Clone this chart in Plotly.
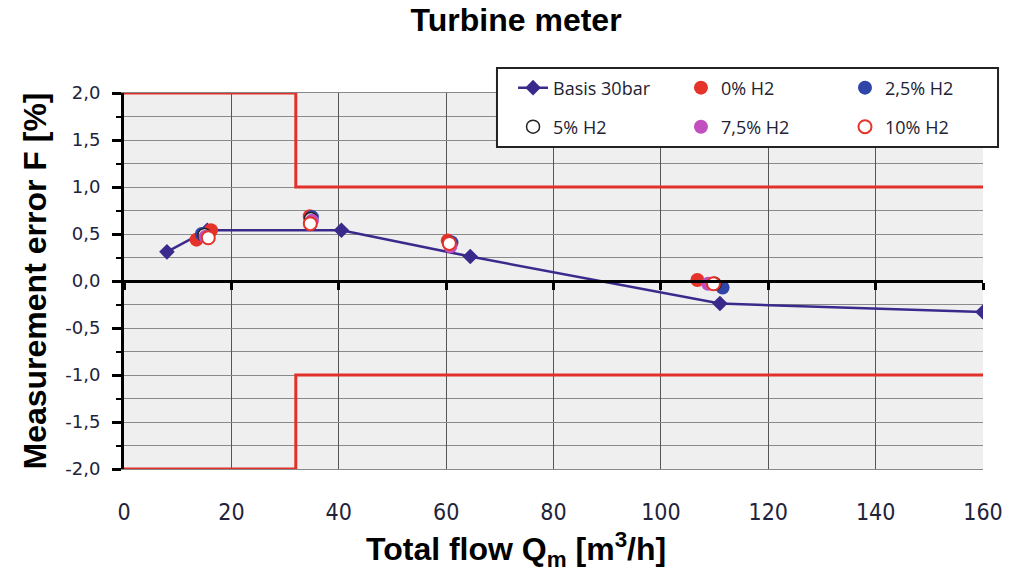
import plotly.graph_objects as go

# Data
basis_x = [8, 15.5, 40.5, 64.5, 111, 160]
basis_y = [0.31, 0.54, 0.54, 0.26, -0.24, -0.33]

h0_x = [13.5, 16.2, 34.6, 60.3, 106.8]
h0_y = [0.44, 0.54, 0.69, 0.43, 0.01]
h25_x = [14.5, 35.0, 61.0, 111.5]
h25_y = [0.50, 0.68, 0.41, -0.07]
h5_x = [15.0, 34.8, 60.6, 110.0]
h5_y = [0.49, 0.66, 0.40, -0.03]
h75_x = [15.2, 35.0, 60.8, 108.8]
h75_y = [0.47, 0.64, 0.37, -0.03]
h10_x = [15.7, 34.7, 60.6, 109.8]
h10_y = [0.46, 0.61, 0.40, -0.03]

upper_x = [0, 32, 32, 160]
upper_y = [2.0, 2.0, 1.0, 1.0]
lower_x = [0, 32, 32, 160]
lower_y = [-2.0, -2.0, -1.0, -1.0]

x_ticks = [0, 20, 40, 60, 80, 100, 120, 140, 160]
y_ticks = [2.0, 1.5, 1.0, 0.5, 0.0, -0.5, -1.0, -1.5, -2.0]
y_minor = [1.75, 1.25, 0.75, 0.25, -0.25, -0.75, -1.25, -1.75]

RED = "#e2312a"
fig = go.Figure()

fig.add_trace(go.Scatter(x=upper_x, y=upper_y, mode="lines",
                         line=dict(color=RED, width=3), showlegend=False, hoverinfo="skip"))
fig.add_trace(go.Scatter(x=lower_x, y=lower_y, mode="lines",
                         line=dict(color=RED, width=3), showlegend=False, hoverinfo="skip"))

fig.add_trace(go.Scatter(x=basis_x, y=basis_y, mode="lines+markers", name="Basis 30bar",
                         legend="legend",
                         line=dict(color="#3a2a8c", width=2.5),
                         marker=dict(symbol="diamond", size=12, color="#3a2a8c")))
fig.add_trace(go.Scatter(x=h0_x, y=h0_y, mode="markers", name="0% H2", legend="legend2",
                         marker=dict(symbol="circle", size=14, color="#e5332a")))
fig.add_trace(go.Scatter(x=h25_x, y=h25_y, mode="markers", name="2,5% H2", legend="legend3",
                         marker=dict(symbol="circle", size=14, color="#2f45a8")))
fig.add_trace(go.Scatter(x=h5_x, y=h5_y, mode="markers", name="5% H2", legend="legend4",
                         marker=dict(symbol="circle", size=13, color="white",
                                     line=dict(color="#222222", width=1.5))))
fig.add_trace(go.Scatter(x=h75_x, y=h75_y, mode="markers", name="7,5% H2", legend="legend5",
                         marker=dict(symbol="circle", size=14, color="#c24fc0")))
fig.add_trace(go.Scatter(x=h10_x, y=h10_y, mode="markers", name="10% H2", legend="legend6",
                         marker=dict(symbol="circle", size=13, color="white",
                                     line=dict(color="#e5332a", width=2))))

# invisible trace to carry the zero-line axis with ticks
fig.add_trace(go.Scatter(x=[0, 160], y=[0, 0], xaxis="x2", mode="lines",
                         line=dict(color="rgba(0,0,0,0)"), showlegend=False, hoverinfo="skip"))

xtick_font = dict(family="Liberation Sans Narrow, DejaVu Sans Condensed, Open Sans", size=23, color="#22223a")
ytick_font = dict(family="DejaVu Sans, Open Sans", size=18, color="#22223a")
title_font = dict(family="Liberation Sans, Arial", size=32, color="black")
legend_font = dict(family="Open Sans, Liberation Sans", size=18, color="#222233")

# legend box (white, black border)
fig.add_shape(type="rect", xref="paper", yref="paper",
              x0=0.4342, x1=1.0175, y0=0.8564, y1=1.0665,
              fillcolor="white", line=dict(color="#222222", width=2), layer="above")

legend_cols = [0.502, 0.6663, 0.8268]
legend_rows = [0.8462, 0.778]
legends = {}
for i in range(6):
    key = "legend" if i == 0 else f"legend{i + 1}"
    legends[key] = dict(xref="container", yref="container",
                        x=legend_cols[i % 3], y=legend_rows[i // 3],
                        xanchor="left", yanchor="middle",
                        bgcolor="rgba(0,0,0,0)", borderwidth=0, font=legend_font)

# x-axis title (offset left of plot centre, as in the original)
fig.add_annotation(text="<b>Total flow Q<sub>m</sub> [m<sup>3</sup>/h]</b>",
                   xref="paper", yref="paper", x=0.456, y=-0.2154,
                   xanchor="center", yanchor="middle", showarrow=False, font=title_font)

fig.update_layout(
    width=1022, height=572,
    margin=dict(l=124, r=39, t=93, b=103, autoexpand=False),
    paper_bgcolor="white",
    plot_bgcolor="#efefef",
    separators=", ",
    title=dict(text="<b>Turbine meter</b>", x=0.505, xanchor="center", y=0.965, yanchor="middle",
               font=title_font),
    xaxis=dict(range=[0, 160], tickvals=x_ticks, ticktext=[str(v) for v in x_ticks],
               showgrid=True, gridcolor="#555555", gridwidth=1,
               zeroline=False, showline=True, linecolor="#888888", linewidth=1, mirror=True,
               ticks="", tickfont=xtick_font, ticklabelstandoff=22),
    xaxis2=dict(range=[0, 160], overlaying="x", anchor="free", position=0.5,
                tickvals=x_ticks, showticklabels=False, ticks="outside", ticklen=7,
                tickwidth=3, tickcolor="black", showline=True, linecolor="black", linewidth=3,
                showgrid=False, zeroline=False),
    yaxis=dict(range=[-2.0, 2.0], tickvals=y_ticks,
               ticktext=[f"{v:.1f}".replace(".", ",") for v in y_ticks],
               showgrid=True, gridcolor="#8a8a8a", gridwidth=1,
               minor=dict(tickvals=y_minor, showgrid=True, gridcolor="#8a8a8a",
                          ticks="outside", ticklen=5, tickcolor="black", tickwidth=2),
               zeroline=False, showline=True, linecolor="black", linewidth=3,
               ticks="outside", ticklen=9, tickwidth=3, tickcolor="black",
               tickfont=ytick_font, ticklabelstandoff=8,
               title=dict(text="<b>Measurement error F [%]</b>", font=title_font, standoff=10)),
    **legends,
)

fig.write_html("out.html")
